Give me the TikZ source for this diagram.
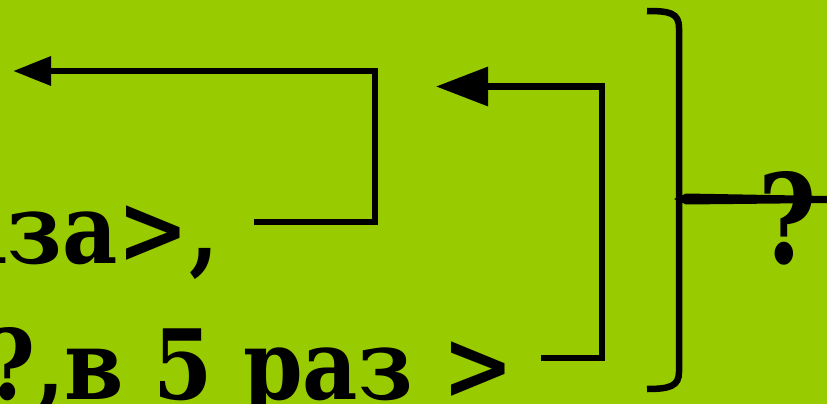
\documentclass[tikz,border=0pt]{standalone}
\usepackage{fontspec}
\setmainfont{DejaVu Serif}
\usetikzlibrary{arrows.meta}
\definecolor{bg}{HTML}{99CC00}
\newcommand{\nx}[1]{\scalebox{0.88}[1]{#1}}
\tikzset{
  txt/.style={inner sep=0pt, font=\bfseries\fontsize{97}{110}\selectfont},
  conn/.style={line width=6.5pt, line join=miter},
  brc/.style={line width=6.5pt}
}
\begin{document}
\begin{tikzpicture}[x=1pt,y=-1pt]
\fill[bg] (0,0) rectangle (827,404);
\useasboundingbox (0,0) rectangle (827,404);
\begin{scope}
\clip (0,0) rectangle (827,404);
\node[txt, anchor=base east] (t1) at (219,263) {\nx{аза>,}};
\node[txt, anchor=base east] (t2) at (514,399) {\nx{?,в 5 раз >}};
\node[txt, anchor=base west, font=\bfseries\fontsize{124}{140}\selectfont] (q) at (758,263) {\scalebox{0.8}[1]{?}};
\end{scope}
% arrow 1
\coordinate (a1s) at (254,222);
\coordinate (a1c) at (375,222);
\coordinate (a1d) at (375,71);
\coordinate (a1e) at (13,71);
\draw[conn, -{Triangle[length=38pt,width=28pt]}] (a1s) -- (a1c) -- (a1d) -- (a1e);
% arrow 2
\coordinate (a2s) at (541,358);
\coordinate (a2c) at (602,358);
\coordinate (a2d) at (602,86.5);
\coordinate (a2e) at (436,86.5);
\draw[conn, -{Triangle[length=52pt,width=38pt]}] (a2s) -- (a2c) -- (a2d) -- (a2e);
% brace
\coordinate (bt) at (647,11);
\coordinate (bb) at (647,389);
\coordinate (bm) at (678,199);
\coordinate (be) at (827,200);
\draw[brc] (bt) .. controls (670,11) and (679,13) .. (679,28) -- (679,372) .. controls (679,386) and (670,389) .. (bb);
\fill (674,199) -- (686,193.5) -- (827,196) -- (827,203) -- (686,204.5) -- cycle;
\end{tikzpicture}
\end{document}
